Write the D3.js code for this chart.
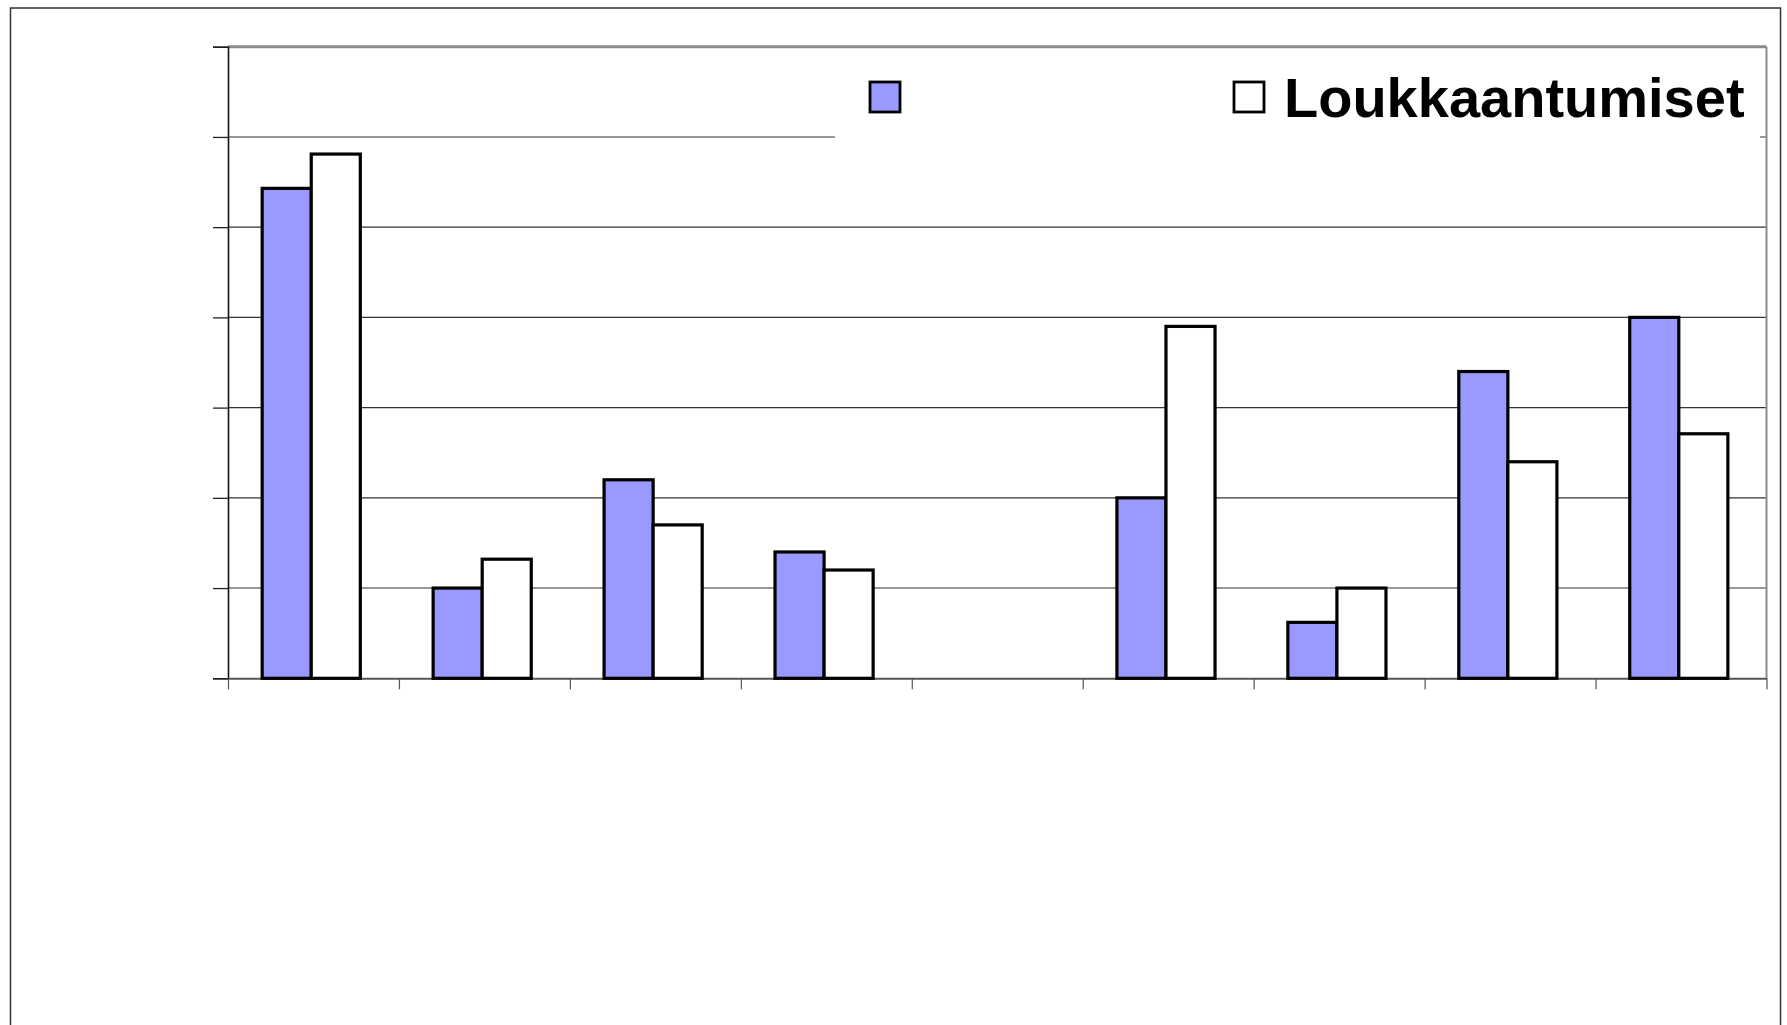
<!DOCTYPE html>
<html>
<head>
  <meta charset="utf-8" />
  <title>Loukkaantumiset</title>
  <script src="https://cdnjs.cloudflare.com/ajax/libs/d3/7.8.5/d3.min.js"></script>
  <style>
    body {
      margin: 0;
      background-color: #ffffff;
    }
    svg {
      display: block;
      font-family: "Liberation Sans", Arial, sans-serif;
    }
  </style>
</head>
<body>
  <div id="chart"></div>
  <script>
    // category labels and the first series name are white in the source, so not readable
    var categories = [1, 2, 3, 4, 5, 6, 7, 8, 9];
    var legendLabels = ["", "Loukkaantumiset"];
    var firstSeries = [54.3, 10, 22, 14, 0, 20, 6.2, 34, 40];
    var secondSeries = [58.1, 13.2, 17, 12, 0, 39, 10, 24, 27.1];
    var yTicks = [0, 10, 20, 30, 40, 50, 60, 70];
    var fills = ["#9999ff", "#ffffff"];

    var w = 1787, h = 1025;
    var plotLeft = 228, plotRight = 1766.5, plotTop = 46.7, plotBottom = 678.3;

    var svg = d3.select("#chart").append("svg")
      .attr("width", w)
      .attr("height", h);

    // outer chart border
    svg.append("rect")
      .attr("x", 10.5).attr("y", 8)
      .attr("width", 1770).attr("height", 1100)
      .attr("fill", "none")
      .attr("stroke", "#333")
      .attr("stroke-width", 1.5);

    var y = d3.scaleLinear().domain([0, 70]).range([plotBottom, plotTop]);
    var x = d3.scaleBand().domain(categories).range([plotLeft, plotRight]);
    var xEdges = d3.scaleLinear().domain([0, categories.length]).range([plotLeft, plotRight]);

    // gridlines
    svg.append("g")
      .selectAll("line")
      .data(yTicks.filter(function (d) { return d > 0 && d < 70; }))
      .enter()
      .append("line")
      .attr("x1", plotLeft).attr("x2", plotRight)
      .attr("y1", function (d) { return y(d); })
      .attr("y2", function (d) { return y(d); })
      .attr("stroke", "#333")
      .attr("stroke-width", 1.1);

    // plot area top and right border
    svg.append("line")
      .attr("x1", plotLeft).attr("x2", plotRight)
      .attr("y1", y(70)).attr("y2", y(70))
      .attr("stroke", "#8c8c8c").attr("stroke-width", 3);
    svg.append("line")
      .attr("x1", plotRight).attr("x2", plotRight)
      .attr("y1", y(70)).attr("y2", y(0))
      .attr("stroke", "#8c8c8c").attr("stroke-width", 2);

    // y axis
    var yAxis = svg.append("g")
      .attr("transform", "translate(" + plotLeft + ",0)")
      .call(d3.axisLeft(y).tickValues(yTicks).tickSize(15).tickFormat(function () { return ""; }));
    yAxis.selectAll("line").attr("stroke", "#222").attr("stroke-width", 1.3);
    yAxis.select(".domain").attr("stroke", "#111").attr("stroke-width", 1.6);

    // x axis: ticks between categories
    var xAxis = svg.append("g")
      .attr("transform", "translate(0," + plotBottom + ")")
      .call(d3.axisBottom(xEdges).tickValues(d3.range(0, categories.length + 1)).tickSize(11).tickSizeOuter(0).tickFormat(function () { return ""; }));
    xAxis.selectAll("line").attr("stroke", "#555").attr("stroke-width", 1.2);
    xAxis.select(".domain").attr("stroke", "#555").attr("stroke-width", 2);

    // legend box covers gridline behind it
    var legend = svg.append("g");
    legend.append("rect")
      .attr("x", 835).attr("y", 56)
      .attr("width", 925).attr("height", 90)
      .attr("fill", "#ffffff");
    var legendX = [870, 1234];
    legend.selectAll("rect.key")
      .data(fills)
      .enter()
      .append("rect")
      .attr("class", "key")
      .attr("x", function (d, i) { return legendX[i]; })
      .attr("y", 82)
      .attr("width", 30).attr("height", 30)
      .attr("fill", function (d) { return d; })
      .attr("stroke", "#000")
      .attr("stroke-width", 2.8);
    legend.selectAll("text")
      .data(legendLabels)
      .enter()
      .append("text")
      .attr("x", function (d, i) { return legendX[i] + 50; })
      .attr("y", 117)
      .attr("font-size", "56px")
      .attr("font-weight", "bold")
      .attr("fill", "#000")
      .text(function (d) { return d; });

    // bars
    var bw = x.bandwidth();
    var barW = bw * 0.287;
    var series = [firstSeries, secondSeries];
    series.forEach(function (vals, si) {
      var rows = vals.map(function (v, i) { return { cat: categories[i], v: v }; })
        .filter(function (d) { return d.v > 0; });
      svg.append("g")
        .selectAll("rect")
        .data(rows)
        .enter()
        .append("rect")
        .attr("x", function (d) { return x(d.cat) + bw * 0.2 + si * barW; })
        .attr("y", function (d) { return y(d.v); })
        .attr("width", barW)
        .attr("height", function (d) { return plotBottom - y(d.v); })
        .attr("fill", fills[si])
        .attr("stroke", "#000")
        .attr("stroke-width", 3.2);
    });
  </script>
</body>
</html>
